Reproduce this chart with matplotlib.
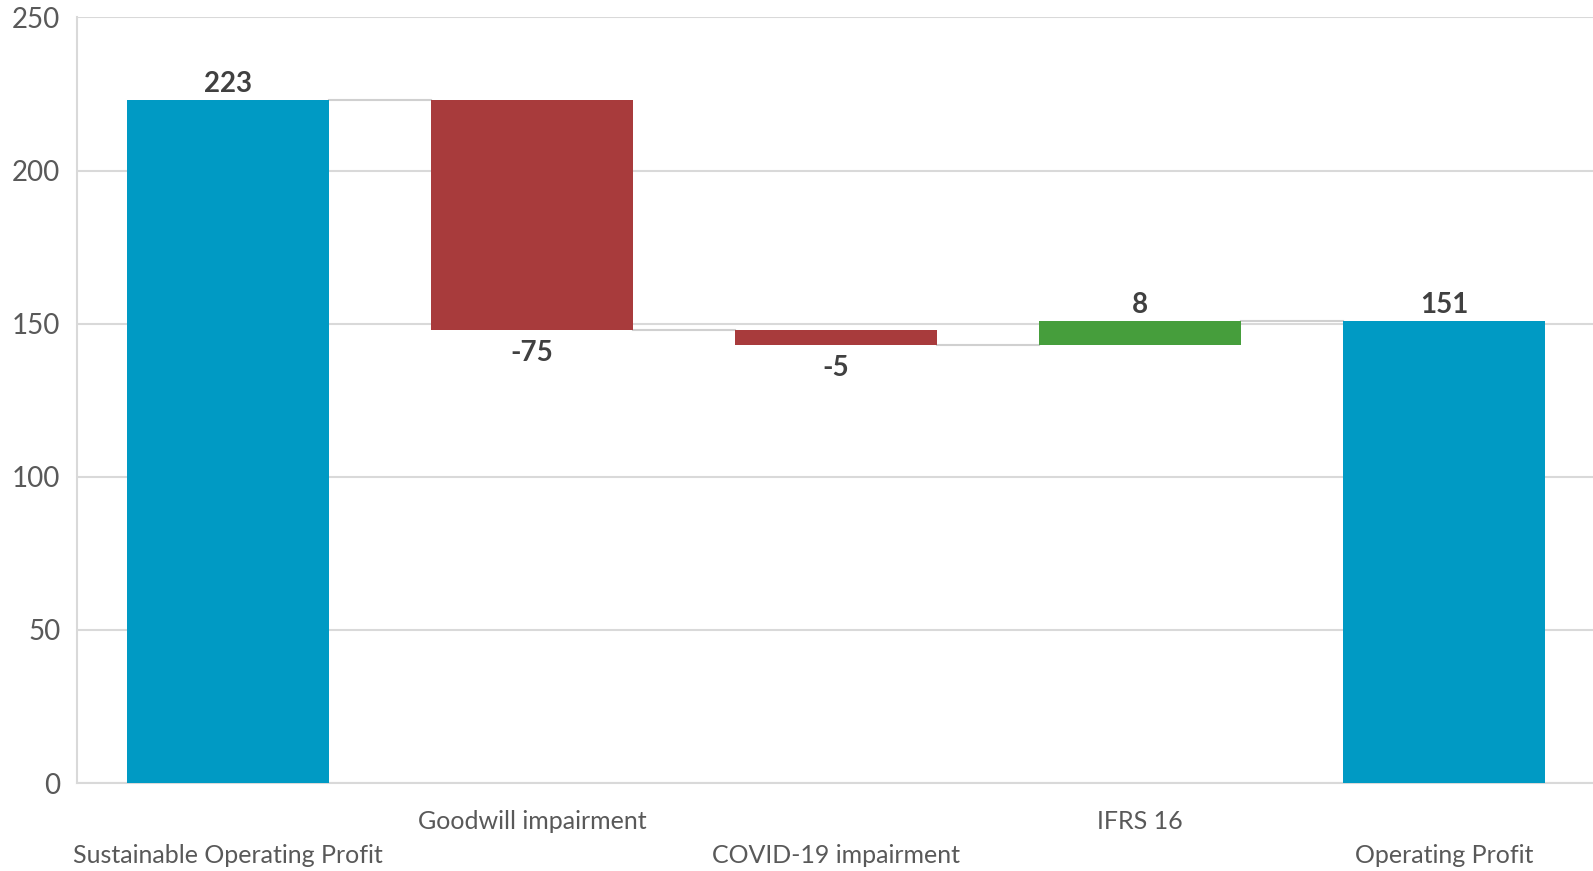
"""
Waterfall chart: sustainable operating profit bridged to operating profit.
"""
import matplotlib
matplotlib.use("Agg")
import matplotlib.pyplot as plt
import numpy as np

# ── Data ──────────────────────────────────────────────────────────────────────
categories = ["Sustainable Operating Profit", "Goodwill impairment",
              "COVID-19 impairment", "IFRS 16", "Operating Profit"]
values     = [223, -75, -5, 8, 151]
is_total   = [True, False, False, False, True]
y_ticks    = [0, 50, 100, 150, 200, 250]

# ── Style ─────────────────────────────────────────────────────────────────────
BLUE  = "#009AC4"
RED   = "#A83B3C"
GREEN = "#469E3C"
GRID  = "#D9D9D9"
TEXT  = "#595959"
LABEL = "#404040"

plt.rcParams["font.family"] = ["Lato", "DejaVu Sans"]


def waterfall_segments(values, is_total):
    """Return bottoms, heights and running levels for each bar."""
    bottoms, heights, levels = [], [], []
    running = 0
    for v, total in zip(values, is_total):
        if total:
            bottoms.append(0)
            heights.append(v)
            running = v
        else:
            start = running
            running += v
            bottoms.append(min(start, running))
            heights.append(abs(v))
        levels.append(running)
    return bottoms, heights, levels


def main() -> None:
    bottoms, heights, levels = waterfall_segments(values, is_total)
    x = np.arange(len(categories))
    width = 0.665

    colors = []
    for v, total in zip(values, is_total):
        if total:
            colors.append(BLUE)
        elif v < 0:
            colors.append(RED)
        else:
            colors.append(GREEN)

    fig = plt.figure(figsize=(15.93, 8.71), dpi=100)
    ax = fig.add_axes([0.0483, 0.101, 0.9517, 0.879])

    ax.set_axisbelow(True)
    ax.grid(axis="y", color=GRID, linewidth=1.5)
    ax.bar(x, heights, width, bottom=bottoms, color=colors, zorder=3)

    # connectors between consecutive bars at the running level
    for i in range(len(x) - 1):
        ax.plot([x[i] + width / 2, x[i + 1] - width / 2],
                [levels[i], levels[i]], color="#D0D0D0", lw=1.5, zorder=2)

    # value labels
    for i, v in enumerate(values):
        if v >= 0:
            ax.annotate(f"{v}", (x[i], bottoms[i] + heights[i]),
                        xytext=(0, 2), textcoords="offset points",
                        ha="center", va="bottom", fontsize=20,
                        fontweight="bold", color=LABEL)
        else:
            ax.annotate(f"{v}", (x[i], bottoms[i]),
                        xytext=(0, -7), textcoords="offset points",
                        ha="center", va="top", fontsize=20,
                        fontweight="bold", color=LABEL)

    # staggered category labels
    for i, cat in enumerate(categories):
        offset = -27.5 if i % 2 else -52
        ax.annotate(cat, (x[i], 0), xycoords=("data", "axes fraction"),
                    xytext=(0, offset), textcoords="offset points",
                    ha="center", va="center", fontsize=18, color=TEXT)

    ax.set_xlim(-0.497, 4.49)
    ax.set_ylim(0, 250)
    ax.set_yticks(y_ticks)
    ax.set_xticks([])
    ax.tick_params(axis="y", length=0, labelsize=20, labelcolor=TEXT, pad=12)

    for side in ["top", "right"]:
        ax.spines[side].set_visible(False)
    for side in ["left", "bottom"]:
        ax.spines[side].set_color(GRID)
        ax.spines[side].set_linewidth(1.5)

    fig.savefig("out.png", dpi=100)
    plt.close(fig)


if __name__ == "__main__":
    main()
